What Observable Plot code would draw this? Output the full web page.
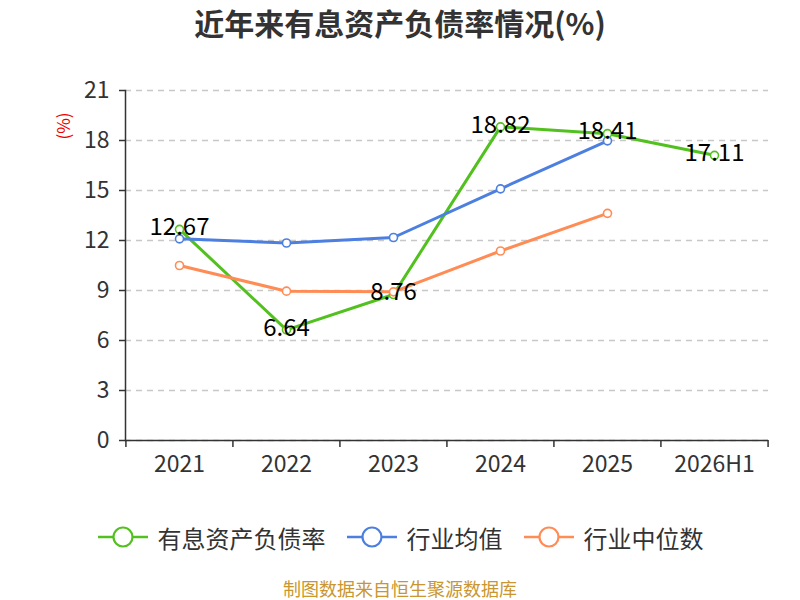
<!DOCTYPE html>
<html>
<head>
<meta charset="utf-8">
<script src="https://cdn.jsdelivr.net/npm/d3@7"></script>
<script src="https://cdn.jsdelivr.net/npm/@observablehq/plot@0.6"></script>
<style>
  body { margin: 0; background: #fff; font-family: "Noto Sans CJK SC", "Noto Sans", sans-serif; }
  #wrap { position: relative; width: 800px; height: 600px; overflow: hidden; }
  #title { position: absolute; left: 0; top: 0; width: 800px; height: 44px; line-height: 44px; text-align: center; font-size: 30px; font-weight: bold; color: #333; }
  #chart { position: absolute; left: 0; top: 44px; }
  #ylab { position: absolute; left: 49px; top: 115px; width: 28px; height: 22px; transform: rotate(-90deg); color: #e00; font-size: 17px; line-height: 22px; text-align: center; }
  #legend { position: absolute; left: 0; top: 516px; width: 800px; height: 42px; display: flex; justify-content: center; align-items: center; }
  .item { display: flex; align-items: center; margin: 0 10px; font-size: 24px; color: #333; }
  .item svg { margin-right: 9px; }
  #caption { position: absolute; left: 0; top: 578px; width: 800px; height: 21px; text-align: center; font-size: 18px; line-height: 21px; color: #c9962f; }
</style>
</head>
<body>
<div id="wrap">
  <div id="title">近年来有息资产负债率情况(%)</div>
  <div id="ylab">(%)</div>
  <div id="chart"></div>
  <div id="legend"></div>
  <div id="caption">制图数据来自恒生聚源数据库</div>
</div>
<script>
const categories = ["2021", "2022", "2023", "2024", "2025", "2026H1"];
const debtRatio = [12.67, 6.64, 8.76, 18.82, 18.41, 17.11];
const industryMean = [12.1, 11.85, 12.18, 15.1, 17.98];
const industryMedian = [10.5, 8.96, 8.92, 11.37, 13.63];
const yTicks = [0, 3, 6, 9, 12, 15, 18, 21];
const seriesNames = ["有息资产负债率", "行业均值", "行业中位数"];
const colors = ["#52c11f", "#4d7fe0", "#ff8c55"];

const seriesValues = [debtRatio, industryMean, industryMedian];
const rows = seriesValues.map((vals, s) => vals.map((v, i) => ({cat: categories[i], value: v, series: seriesNames[s]})));

const W = 800, H = 470, mL = 125, mR = 32, mT = 46, mB = 74;
const step = (W - mL - mR) / categories.length;

const marks = [
  Plot.gridY(yTicks, {stroke: "#c8c8c8", strokeOpacity: 1, strokeDasharray: "6,5", strokeWidth: 1.3}),
  Plot.ruleY([0], {stroke: "#333", strokeWidth: 1.5}),
  Plot.frame({anchor: "left", stroke: "#333", strokeWidth: 1.5}),
  Plot.ruleX(categories, {x: d => d, dx: -step / 2, y1: 0, y2: 0, insetBottom: -7, stroke: "#333", strokeWidth: 1.5}),
  Plot.ruleX([categories[categories.length - 1]], {x: d => d, dx: step / 2, y1: 0, y2: 0, insetBottom: -7, stroke: "#333", strokeWidth: 1.5}),
  Plot.axisY(yTicks, {tickSize: 6, tickPadding: 10, fontSize: 23, color: "#333", stroke: "#333", strokeWidth: 1.5, label: null}),
  Plot.axisX({tickSize: 0, tickPadding: 15, fontSize: 23, color: "#333", label: null}),
];
rows.forEach((r, s) => {
  marks.push(Plot.line(r, {x: "cat", y: "value", stroke: colors[s], strokeWidth: 3}));
});
rows.forEach((r, s) => {
  marks.push(Plot.dot(r, {x: "cat", y: "value", r: 4, fill: "white", stroke: colors[s], strokeWidth: 1.6}));
});
marks.push(Plot.text(rows[0], {x: "cat", y: "value", text: d => d.value.toFixed(2), fontSize: 24, fill: "#000", dy: -2, fontFamily: "Noto Sans CJK SC"}));

const chart = Plot.plot({
  width: W, height: H,
  marginLeft: mL, marginRight: mR, marginTop: mT, marginBottom: mB,
  style: {fontFamily: "Noto Sans CJK SC, Noto Sans, sans-serif", background: "transparent", overflow: "visible"},
  x: {type: "point", domain: categories, padding: 0.5},
  y: {domain: [0, 21], ticks: yTicks},
  marks
});
document.getElementById("chart").appendChild(chart);

const legend = document.getElementById("legend");
seriesNames.forEach((name, s) => {
  const item = document.createElement("div");
  item.className = "item";
  item.innerHTML = `<svg width="52" height="24"><line x1="1" y1="12" x2="51" y2="12" stroke="${colors[s]}" stroke-width="2.5"/><circle cx="26" cy="12" r="9.5" fill="white" stroke="${colors[s]}" stroke-width="2.2"/></svg><span>${name}</span>`;
  legend.appendChild(item);
});
</script>
</body>
</html>
